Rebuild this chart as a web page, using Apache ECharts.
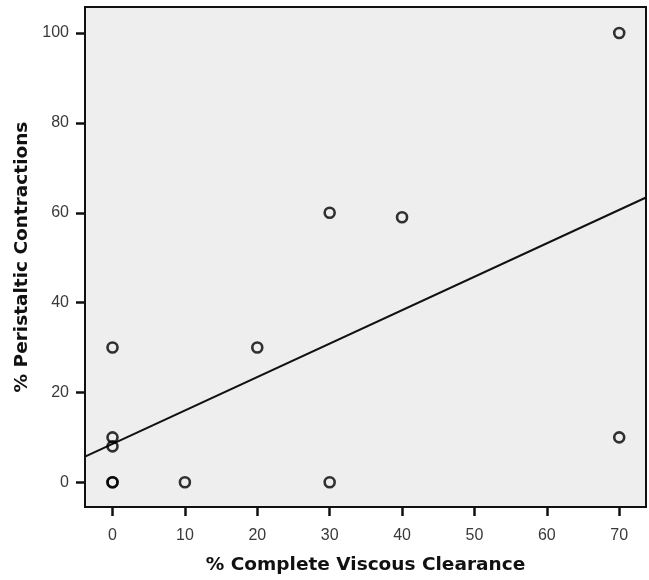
<!DOCTYPE html>
<html>
<head>
<meta charset="utf-8">
<script src="https://cdn.jsdelivr.net/npm/echarts@6/dist/echarts.min.js"></script>
<style>
  html, body { margin: 0; padding: 0; background: #ffffff; }
  #chart { width: 649px; height: 580px; }
</style>
</head>
<body>
<div id="chart"></div>
<script>
// Per-case observations: % complete viscous clearance vs % peristaltic contractions
const clearance = [0, 0, 0, 0, 0, 10, 20, 30, 30, 40, 70, 70];
const peristaltic = [0, 0, 8, 10, 30, 0, 30, 60, 0, 59, 100, 10];

// Least-squares fit line, given at the two ends of the x range
const fitX = [-3.8, 73.7];
const fitY = [5.7, 63.4];

// Axis tick values
const xTicks = [0, 10, 20, 30, 40, 50, 60, 70];
const yTicks = [0, 20, 40, 60, 80, 100];

const points = clearance.map((x, i) => [x, peristaltic[i]]);
const fitLine = fitX.map((x, i) => [x, fitY[i]]);

const labelStyle = { color: '#3a3a3a', fontSize: 16, fontFamily: 'Liberation Sans, Arial, sans-serif' };
const titleStyle = { color: '#111111', fontSize: 18.5, fontWeight: 'bold', fontFamily: 'DejaVu Sans, Verdana, sans-serif' };

const chart = echarts.init(document.getElementById('chart'), null, { renderer: 'canvas' });
chart.setOption({
  animation: false,
  grid: {
    left: 85, right: 3, top: 7, bottom: 69,
    show: true, backgroundColor: '#eeeeee', borderColor: '#111111', borderWidth: 2
  },
  xAxis: {
    type: 'value', min: -3.8, max: 73.7,
    name: '% Complete Viscous Clearance', nameLocation: 'middle', nameGap: 49,
    nameTextStyle: titleStyle,
    splitLine: { show: false },
    axisLine: { show: true, onZero: false, lineStyle: { color: '#111111', width: 2 } },
    axisTick: { show: true, length: 9, customValues: xTicks, lineStyle: { color: '#111111', width: 2.5 } },
    axisLabel: { ...labelStyle, margin: 21, customValues: xTicks }
  },
  yAxis: {
    type: 'value', min: -5.5, max: 105.8,
    name: '% Peristaltic Contractions', nameLocation: 'middle', nameGap: 53,
    nameTextStyle: titleStyle,
    splitLine: { show: false },
    axisLine: { show: true, onZero: false, lineStyle: { color: '#111111', width: 2 } },
    axisTick: { show: true, length: 9, customValues: yTicks, lineStyle: { color: '#111111', width: 2.5 } },
    axisLabel: { ...labelStyle, margin: 16, customValues: yTicks }
  },
  series: [
    {
      type: 'line', data: fitLine, symbol: 'none', silent: true,
      lineStyle: { color: '#111111', width: 2 }, z: 2
    },
    {
      type: 'scatter', data: points, symbol: 'circle', symbolSize: 10,
      itemStyle: { color: 'rgba(0,0,0,0)', borderColor: '#000000', borderWidth: 2.6 }, z: 3
    }
  ]
});
</script>
</body>
</html>
